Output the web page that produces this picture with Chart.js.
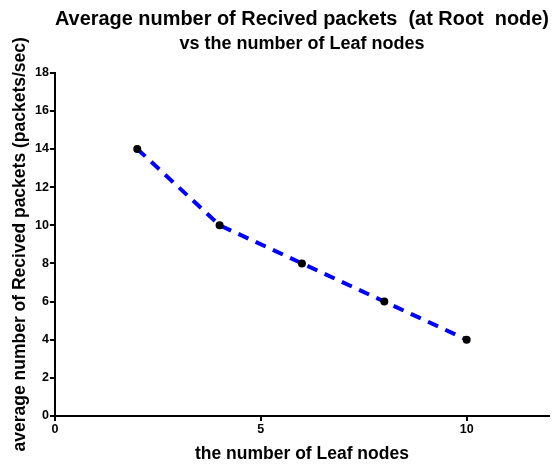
<!DOCTYPE html>
<html>
<head>
<meta charset="utf-8">
<script src="https://cdn.jsdelivr.net/npm/chart.js@4"></script>
<style>
  html, body { margin: 0; padding: 0; background: #fff; }
  #wrap { width: 553px; height: 466px; }
</style>
</head>
<body>
<div id="wrap"><canvas id="c"></canvas></div>
<script>
// leaf nodes vs received packets at root
const leafNodes = [2, 4, 6, 8, 10];
const recvPackets = [14, 10, 8, 6, 4];
const xTicks = [0, 5, 10];
const yTicks = [0, 2, 4, 6, 8, 10, 12, 14, 16, 18];

const FONT = "'Liberation Sans', Arial, sans-serif";

new Chart(document.getElementById("c"), {
  type: "scatter",
  data: {
    datasets: [
      {
        data: leafNodes.map((x, i) => ({ x, y: recvPackets[i] })),
        showLine: true,
        borderColor: "#0000ff",
        borderWidth: 4,
        borderDash: [11, 8],
        pointRadius: 4,
        pointBorderWidth: 0,
        pointBackgroundColor: "#000",
        pointBorderColor: "#000",
        tension: 0,
      },
    ],
  },
  options: {
    responsive: true,
    maintainAspectRatio: false,
    animation: false,
    layout: { padding: { left: 10, right: 4, top: 4, bottom: 1 } },
    plugins: {
      legend: { display: false },
      tooltip: { enabled: false },
      title: {
        display: true,
        fullSize: false,
        text: "Average number of Recived packets  (at Root  node)",
        color: "#000",
        font: { family: FONT, size: 20, weight: "bold" },
        padding: { top: 3, bottom: 2 },
      },
      subtitle: {
        display: true,
        fullSize: false,
        text: "vs the number of Leaf nodes",
        color: "#000",
        font: { family: FONT, size: 18, weight: "bold" },
        padding: { top: 0, bottom: 18 },
      },
    },
    scales: {
      x: {
        type: "linear",
        min: 0,
        max: 12,
        afterBuildTicks: (axis) => {
          axis.ticks = xTicks.map((v) => ({ value: v }));
        },
        grid: {
          display: true,
          drawOnChartArea: false,
          drawTicks: true,
          tickLength: 5,
          color: "#000",
          lineWidth: 2,
        },
        border: { display: true, color: "#000", width: 2 },
        ticks: {
          color: "#000",
          font: { family: FONT, size: 12.5, weight: "bold" },
          padding: 1,
          maxRotation: 0,
        },
        title: {
          display: true,
          text: "the number of Leaf nodes",
          color: "#000",
          font: { family: FONT, size: 17.5, weight: "bold" },
          padding: { top: 6, bottom: 0 },
        },
      },
      y: {
        type: "linear",
        min: 0,
        max: 18,
        afterBuildTicks: (axis) => {
          axis.ticks = yTicks.map((v) => ({ value: v }));
        },
        grid: {
          display: true,
          drawOnChartArea: false,
          drawTicks: true,
          tickLength: 5,
          color: "#000",
          lineWidth: 2,
        },
        border: { display: true, color: "#000", width: 2 },
        ticks: {
          color: "#000",
          font: { family: FONT, size: 12.5, weight: "bold" },
          padding: 1,
        },
        title: {
          display: true,
          text: "average number of Recived packets (packets/sec)",
          color: "#000",
          font: { family: FONT, size: 17.5, weight: "bold" },
          padding: { top: 0, bottom: 3 },
        },
      },
    },
  },
});
</script>
</body>
</html>
